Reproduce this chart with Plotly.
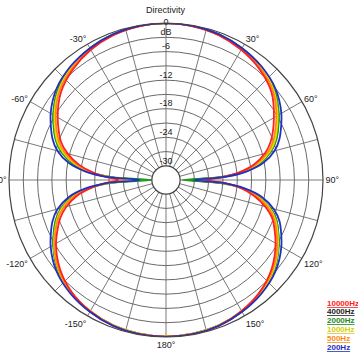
import plotly.graph_objects as go

# Angles (degrees, clockwise from front) and levels (dB)
THETA = [0, 10, 20, 30, 40, 50, 60, 70, 75, 80, 84, 87, 90,
         93, 96, 100, 105, 110, 120, 130, 140, 150, 160, 170, 180,
         190, 200, 210, 220, 230, 240, 250, 255, 260, 264, 267, 270,
         273, 276, 280, 285, 290, 300, 310, 320, 330, 340, 350, 360]

HZ_10000 = [0, -0.2, -0.6, -1.4, -2.5, -4.1, -6.8, -9.6, -11.5, -14.2, -17.5, -20.8, -24.5,
            -20.5, -17.2, -14.3, -11.4, -9.2, -6.4, -4.0, -2.3, -1.2, -0.4, -0.1, 0.0,
            -0.1, -0.4, -1.1, -2.2, -3.9, -6.3, -9.3, -11.3, -14.0, -17.2, -20.2, -23.0,
            -20.3, -17.5, -14.4, -11.6, -9.5, -6.7, -4.2, -2.6, -1.4, -0.6, -0.2, 0.0]
HZ_4000 = [0, -0.1, -0.5, -1.1, -2.0, -3.4, -5.7, -8.4, -10.3, -13.1, -16.8, -21.2, -28.0,
           -21.4, -17.0, -13.4, -10.3, -8.3, -5.7, -3.4, -2.0, -1.1, -0.5, -0.2, -0.1,
           -0.2, -0.5, -1.1, -2.0, -3.4, -5.7, -8.4, -10.2, -13.0, -16.7, -21.0, -27.0,
           -21.2, -16.8, -13.2, -10.3, -8.4, -5.7, -3.4, -2.0, -1.1, -0.5, -0.1, 0.0]
HZ_2000 = [0, -0.1, -0.4, -1.0, -1.9, -3.3, -5.6, -8.3, -10.2, -13.0, -16.8, -21.5, -29.5,
           -21.8, -17.0, -13.4, -10.3, -8.3, -5.6, -3.4, -2.0, -1.1, -0.5, -0.2, -0.1,
           -0.2, -0.5, -1.1, -2.0, -3.4, -5.6, -8.3, -10.2, -13.0, -16.8, -21.5, -30.0,
           -21.5, -16.7, -13.1, -10.2, -8.3, -5.6, -3.4, -2.0, -1.0, -0.4, -0.1, 0.0]
HZ_1000 = [0, -0.1, -0.5, -1.1, -2.0, -3.5, -5.9, -8.6, -10.5, -13.3, -16.9, -21.0, -26.5,
           -21.2, -17.0, -13.6, -10.5, -8.5, -5.8, -3.5, -2.1, -1.1, -0.5, -0.2, -0.1,
           -0.2, -0.5, -1.1, -2.0, -3.5, -5.8, -8.6, -10.4, -13.2, -16.8, -20.8, -26.0,
           -21.0, -16.8, -13.5, -10.6, -8.6, -5.9, -3.6, -2.1, -1.1, -0.5, -0.1, 0.0]
HZ_500 = [0, -0.2, -0.5, -1.2, -2.2, -3.7, -6.2, -9.0, -10.9, -13.7, -17.1, -20.8, -25.5,
          -20.8, -17.0, -13.8, -10.8, -8.8, -6.0, -3.7, -2.2, -1.2, -0.5, -0.2, -0.1,
          -0.2, -0.5, -1.2, -2.1, -3.6, -5.9, -8.8, -10.7, -13.4, -16.9, -20.4, -24.5,
          -20.6, -17.0, -13.9, -11.0, -9.0, -6.2, -3.8, -2.3, -1.2, -0.5, -0.2, 0.0]
HZ_200 = [0, -0.1, -0.4, -1.0, -1.8, -3.0, -5.0, -7.6, -9.4, -12.2, -16.0, -20.5, -27.0,
          -21.0, -16.5, -12.6, -9.6, -7.6, -5.0, -3.0, -1.8, -1.0, -0.4, -0.1, 0.0,
          -0.1, -0.4, -1.0, -1.8, -3.0, -5.0, -7.6, -9.4, -12.2, -16.0, -20.5, -27.5,
          -20.5, -16.0, -12.2, -9.4, -7.6, -5.0, -3.0, -1.8, -1.0, -0.4, -0.1, 0.0]

SERIES_NAMES = ["10000Hz", "4000Hz", "2000Hz", "1000Hz", "500Hz", "200Hz"]
SERIES_VALUES = [HZ_10000, HZ_4000, HZ_2000, HZ_1000, HZ_500, HZ_200]
LINE_COLORS = ["#ff2020", "#222222", "#1f9a1f", "#e6e000", "#ff8a10", "#2230c0"]
TEXT_COLORS = ["#ff2020", "#222222", "#1f8a1f", "#d8cc10", "#ff8a10", "#2230c0"]

ANGLE_TICKS = list(range(0, 360, 15))
ANGLE_LABELS = ["", "", "30°", "", "60°", "", "90°", "", "120°", "", "150°", "",
                "180°", "", "-150°", "", "-120°", "", "-90°", "", "-60°", "", "-30°", ""]
RADIAL_TICKS = list(range(-30, 1, 3))
RADIAL_LABEL_R = [0, -3, -6, -12, -18, -24, -30]
RADIAL_LABEL_TEXT = ["0", "dB", "-6", "-12", "-18", "-24", "-30"]
RADIAL_LABEL_POS = ["middle center"] + ["top center"] * 6

FONT = "Arial, Liberation Sans, sans-serif"

fig = go.Figure()

draw_order = [1, 2, 3, 4, 0, 5]
for i in draw_order:
    fig.add_trace(go.Scatterpolar(
        r=SERIES_VALUES[i], theta=THETA, mode="lines", name=SERIES_NAMES[i],
        line=dict(color=LINE_COLORS[i], width=1.8, shape="spline", smoothing=0.8),
        showlegend=False,
    ))

fig.add_trace(go.Scatterpolar(
    r=RADIAL_LABEL_R, theta=[0] * len(RADIAL_LABEL_R), mode="text",
    text=RADIAL_LABEL_TEXT, textposition=RADIAL_LABEL_POS,
    textfont=dict(family=FONT, size=9, color="#222222"),
    showlegend=False, cliponaxis=False, hoverinfo="skip",
))

W = H = 358
cx, cy, R = 166, 180, 157
fig.update_layout(
    width=W, height=H,
    margin=dict(l=0, r=0, t=0, b=0),
    paper_bgcolor="white",
    font=dict(family=FONT, size=9, color="#222222"),
    polar=dict(
        domain=dict(x=[(cx - R) / W, (cx + R) / W], y=[1 - (cy + R) / H, 1 - (cy - R) / H]),
        bgcolor="white",
        hole=0.09,
        angularaxis=dict(
            rotation=90, direction="clockwise",
            tickmode="array", tickvals=ANGLE_TICKS, ticktext=ANGLE_LABELS,
            ticks="", showline=True, linecolor="#444444", linewidth=1.2,
            gridcolor="#7a7a7a", gridwidth=1,
            tickfont=dict(family=FONT, size=9, color="#222222"),
        ),
        radialaxis=dict(
            range=[-30, 0], tickmode="array", tickvals=RADIAL_TICKS,
            showticklabels=False, ticks="", showline=False,
            gridcolor="#6a6a6a", gridwidth=1,
        ),
    ),
    annotations=[
        dict(text="Directivity", x=cx / W, y=1 - 10 / H, xref="paper", yref="paper",
             xanchor="center", yanchor="middle", showarrow=False,
             font=dict(family=FONT, size=9, color="#222222")),
    ] + [
        dict(text="<b><u>%s</u></b>" % SERIES_NAMES[i], x=325 / W,
             y=1 - (303 + 8.8 * i) / H,
             xref="paper", yref="paper", xanchor="left", yanchor="middle", showarrow=False,
             font=dict(family=FONT, size=8, color=TEXT_COLORS[i]))
        for i in range(len(SERIES_NAMES))
    ],
)

# remove the default 8px page margin so the figure fills the window exactly
fig.write_html("out.html", config={"displayModeBar": False},
               post_script="document.body.style.margin='0px';")
